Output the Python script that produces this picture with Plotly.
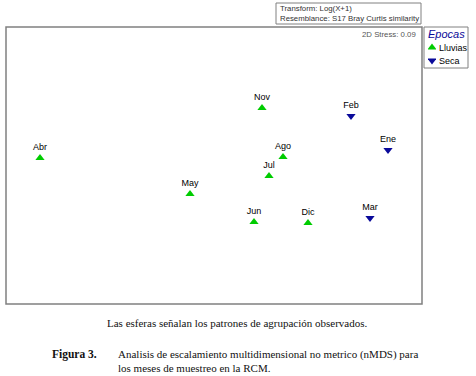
import plotly.graph_objects as go

# nMDS coordinates
months_lluvias = ["Abr", "May", "Nov", "Ago", "Jul", "Jun", "Dic"]
x_lluvias = [-1.74, -0.24, 0.48, 0.69, 0.55, 0.40, 0.94]
y_lluvias = [0.07, -0.29, 0.57, 0.08, -0.11, -0.57, -0.58]

months_seca = ["Feb", "Ene", "Mar"]
x_seca = [1.37, 1.74, 1.56]
y_seca = [0.49, 0.15, -0.53]

legend_names = ["Lluvias", "Seca"]

W, H = 476, 376
GREEN = "#00cc00"
BLUE = "#0a0a9a"

def px(v):
    return v / W

def py(v):
    return 1 - v / H

fig = go.Figure()

fig.add_trace(go.Scatter(
    x=x_lluvias, y=y_lluvias, mode="markers+text", text=months_lluvias,
    textposition="top center", textfont=dict(family="Liberation Sans, Arial", size=9, color="#000"),
    marker=dict(symbol="triangle-up", size=8, color=GREEN, line=dict(width=0)),
    showlegend=False, cliponaxis=False))
fig.add_trace(go.Scatter(
    x=x_seca, y=y_seca, mode="markers+text", text=months_seca,
    textposition="top center", textfont=dict(family="Liberation Sans, Arial", size=9, color="#000"),
    marker=dict(symbol="triangle-down", size=8, color=BLUE, line=dict(width=0)),
    showlegend=False, cliponaxis=False))

# custom legend symbols on an auxiliary axis covering the legend box
fig.add_trace(go.Scatter(
    x=[0], y=[1], mode="markers", xaxis="x2", yaxis="y2",
    marker=dict(symbol="triangle-up", size=8, color=GREEN, line=dict(width=0)),
    showlegend=False, hoverinfo="skip"))
fig.add_trace(go.Scatter(
    x=[0], y=[0], mode="markers", xaxis="x2", yaxis="y2",
    marker=dict(symbol="triangle-down", size=8, color=BLUE, line=dict(width=0)),
    showlegend=False, hoverinfo="skip"))

fig.update_layout(
    width=W, height=H, margin=dict(l=0, r=0, t=0, b=0),
    paper_bgcolor="white", plot_bgcolor="white",
    xaxis=dict(domain=[px(6), px(422)], range=[-2.08, 2.08], visible=False, fixedrange=True),
    yaxis=dict(domain=[py(304), py(27)], range=[-1.39, 1.38], visible=False, fixedrange=True),
    xaxis2=dict(domain=[px(428), px(436)], range=[-1, 1], visible=False, anchor="y2", fixedrange=True),
    yaxis2=dict(domain=[py(67), py(41)], range=[-0.5, 1.5], visible=False, anchor="x2", fixedrange=True),
    showlegend=False,
)

shapes = [
    dict(type="rect", xref="paper", yref="paper", x0=px(6), x1=px(422), y0=py(304), y1=py(27),
         line=dict(color="#808080", width=1.5)),
    dict(type="rect", xref="paper", yref="paper", x0=px(276), x1=px(421), y0=py(24), y1=py(3),
         line=dict(color="#808080", width=1)),
    dict(type="rect", xref="paper", yref="paper", x0=px(424), x1=px(468), y0=py(68), y1=py(27),
         line=dict(color="#808080", width=1)),
]

ann = []
sans = "Liberation Sans, Arial"
serif = "Liberation Serif, Times New Roman"
ann.append(dict(x=px(278), y=py(8.5), text="Transform: Log(X+1)", font=dict(family=sans, size=7.8, color="#333")))
ann.append(dict(x=px(278), y=py(18.5), text="Resemblance: S17 Bray Curtis similarity", font=dict(family=sans, size=7.8, color="#333")))
ann.append(dict(x=px(418), y=py(34), text="2D Stress: 0.09", xanchor="right", font=dict(family=sans, size=7.8, color="#555")))
ann.append(dict(x=px(426), y=py(34), text="<i>Epocas</i>", font=dict(family=sans, size=11, color=BLUE)))
ann.append(dict(x=px(437), y=py(48), text=legend_names[0], font=dict(family=sans, size=9, color="#000")))
ann.append(dict(x=px(437), y=py(61), text=legend_names[1], font=dict(family=sans, size=9, color="#000")))
ann.append(dict(x=px(237), y=py(323), xanchor="center", text="Las esferas señalan los patrones de agrupación observados.",
                font=dict(family=serif, size=11, color="#111")))
ann.append(dict(x=px(50), y=py(354), text="<b>Figura 3.</b>", font=dict(family=serif, size=11.5, color="#111")))
ann.append(dict(x=px(116), y=py(354), text="Analisis de escalamiento multidimensional no metrico (nMDS) para",
                font=dict(family=serif, size=11, color="#111")))
ann.append(dict(x=px(116), y=py(368), text="los meses de muestreo en la RCM.",
                font=dict(family=serif, size=11, color="#111")))

for a in ann:
    a.setdefault("xanchor", "left")
    a.update(xref="paper", yref="paper", yanchor="middle", showarrow=False)

fig.update_layout(shapes=shapes, annotations=ann)
fig.write_html("out.html", config={"displayModeBar": False, "staticPlot": True},
               post_script="document.body.style.margin='0';document.body.style.overflow='hidden';")
